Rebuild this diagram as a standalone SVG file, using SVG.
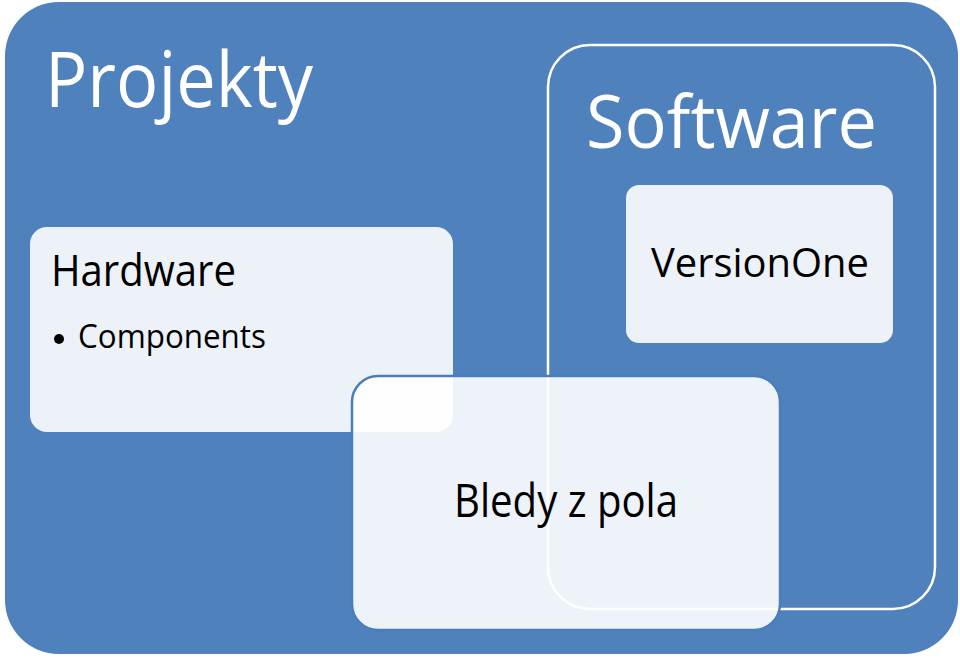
<svg xmlns="http://www.w3.org/2000/svg" width="960" height="659" viewBox="0 0 960 659">
  <style>
    .t { font-family: "Open Sans", "Noto Sans", "Liberation Sans", sans-serif; }
    .title { fill: #FFFFFF; }
    .lbl { fill: #000000; }
    .box { fill: #EDF1F8; }
  </style>
  <rect width="960" height="659" fill="#FFFFFF"/>
  <g id="projekty">
    <rect x="5" y="2" width="953" height="652" rx="54" ry="54" fill="#4F81BD"/>
    <text class="t title" x="45" y="107" font-size="77" textLength="268" lengthAdjust="spacingAndGlyphs">Projekty</text>
  </g>
  <g id="software">
    <rect x="548" y="45" width="387" height="564" rx="42" ry="42" fill="none" stroke="#FFFFFF" stroke-width="2.5"/>
    <text class="t title" x="586" y="148" font-size="74" textLength="291" lengthAdjust="spacingAndGlyphs">Software</text>
  </g>
  <g id="versionone">
    <rect class="box" x="626" y="185" width="267" height="158" rx="13" ry="13"/>
    <text class="t lbl" x="651" y="277" font-size="41" textLength="218" lengthAdjust="spacingAndGlyphs">VersionOne</text>
  </g>
  <g id="hardware">
    <rect class="box" x="30" y="227" width="423" height="205" rx="17" ry="17"/>
    <text class="t lbl" x="51" y="286" font-size="43" textLength="185" lengthAdjust="spacingAndGlyphs">Hardware</text>
    <circle cx="59" cy="339" r="5" fill="#000000"/>
    <text class="t lbl" x="78" y="348" font-size="32" textLength="188" lengthAdjust="spacingAndGlyphs">Components</text>
  </g>
  <g id="bledy">
    <rect x="352" y="376" width="428" height="254" rx="26" ry="26" fill="#FFFFFF" fill-opacity="0.9" stroke="#4A7EBB" stroke-width="2.5"/>
    <text class="t lbl" x="454" y="517" font-size="46" textLength="224" lengthAdjust="spacingAndGlyphs">Bledy z pola</text>
  </g>
  <g id="connectors"></g>
</svg>
